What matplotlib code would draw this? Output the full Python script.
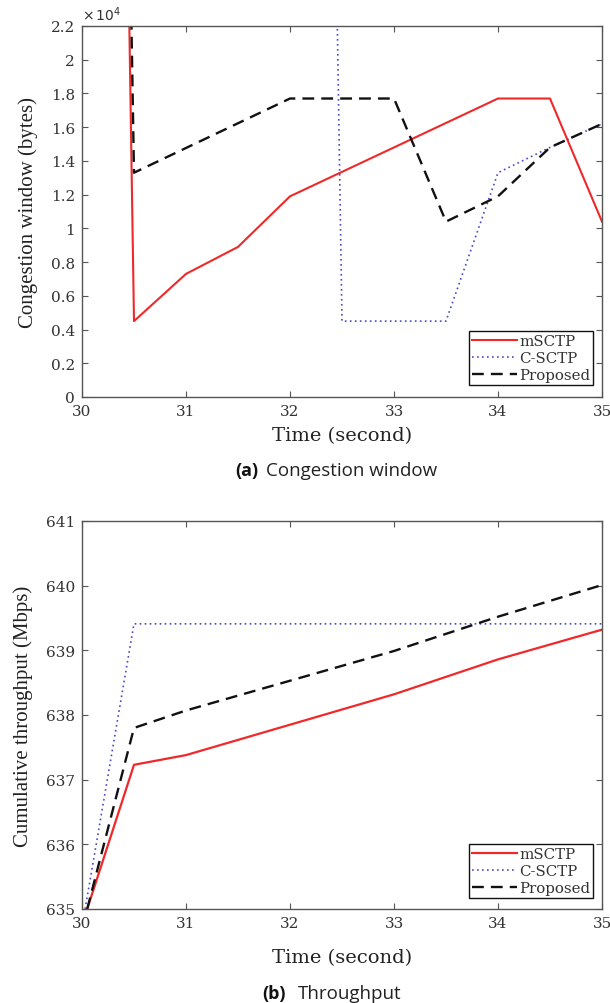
import matplotlib
matplotlib.use("Agg")
import matplotlib.pyplot as plt
from matplotlib.ticker import FuncFormatter

# ---- Congestion window (bytes) ----
cw_mSCTP_t = [30.45, 30.5, 31, 31.5, 32, 33, 34, 34.5, 35]
cw_mSCTP = [24000, 4500, 7300, 8900, 11900, 14800, 17700, 17700, 10400]

cw_CSCTP_t = [32.45, 32.5, 33.5, 34, 34.5, 35]
cw_CSCTP = [24000, 4500, 4500, 13300, 14800, 16200]

cw_prop_t = [30.47, 30.5, 32, 33, 33.5, 34, 34.5, 35]
cw_prop = [24000, 13300, 17700, 17700, 10400, 11900, 14800, 16200]

# ---- Cumulative throughput (Mbps) ----
tp_mSCTP_t = [30.05, 30.5, 31, 32, 33, 34, 35]
tp_mSCTP = [635.0, 637.23, 637.38, 637.85, 638.32, 638.86, 639.32]

tp_CSCTP_t = [30.03, 30.5, 31, 32, 33, 34, 35]
tp_CSCTP = [635.0, 639.41, 639.41, 639.41, 639.41, 639.41, 639.41]

tp_prop_t = [30.05, 30.5, 31, 32, 33, 34, 35]
tp_prop = [635.0, 637.8, 638.07, 638.53, 638.99, 639.52, 640.01]

series_names = ["mSCTP", "C-SCTP", "Proposed"]
x_ticks = [30, 31, 32, 33, 34, 35]
cw_ticks = [i * 2000 for i in range(12)]
tp_ticks = [635, 636, 637, 638, 639, 640, 641]

RED = "#f0282a"
BLUE = "#4a4ac8"
BLACK = "#111111"
AX_COL = "#555555"
TICK_FONT = "DejaVu Serif"
LABEL_FONT = "Liberation Serif"
CAP_FONT = "Open Sans"

W, H = 610, 1004
fig = plt.figure(figsize=(W / 100, H / 100), dpi=100)


def px_axes(left, top, right, bottom):
    return fig.add_axes([left / W, 1 - bottom / H, (right - left) / W, (bottom - top) / H])


def style_axes(ax):
    for s in ax.spines.values():
        s.set_color(AX_COL)
        s.set_linewidth(1.0)
    ax.tick_params(direction="in", top=True, right=True, length=4, width=0.8,
                   color=AX_COL, labelcolor="#333333", labelsize=11, pad=5)
    for lab in ax.get_xticklabels() + ax.get_yticklabels():
        lab.set_fontfamily(TICK_FONT)


def add_legend(ax, anchor):
    leg = ax.legend(series_names, loc="lower right", bbox_to_anchor=anchor,
                    frameon=True, fancybox=False, framealpha=1, edgecolor="#111111",
                    prop={"family": TICK_FONT, "size": 10.8}, handlelength=3.0,
                    handletextpad=0.15, labelspacing=0.2, borderpad=0.2,
                    borderaxespad=0.0)
    leg.get_frame().set_linewidth(1.0)
    for t in leg.get_texts():
        t.set_color("#333333")


def caption(x_left, y, tag, title, gap):
    fig.text(x_left / W, 1 - y / H, tag, ha="left", va="center", fontsize=13,
             family=CAP_FONT, weight="bold", color="#111111")
    fig.text((x_left + gap) / W, 1 - y / H, title, ha="left", va="center",
             fontsize=13.5, family=CAP_FONT, color="#222222")


# ---------- (a) Congestion window ----------
ax1 = px_axes(82, 27, 602, 398)
ax1.plot(cw_mSCTP_t, cw_mSCTP, color=RED, lw=1.5)
ax1.plot(cw_CSCTP_t, cw_CSCTP, color=BLUE, lw=1.2, ls=(0, (1, 2)))
ax1.plot(cw_prop_t, cw_prop, color=BLACK, lw=1.7, ls=(0, (5, 3)))
ax1.set_xlim(30, 35)
ax1.set_ylim(0, 22000)
ax1.set_xticks(x_ticks)
ax1.set_yticks(cw_ticks)
ax1.yaxis.set_major_formatter(FuncFormatter(lambda v, p: f"{v / 1e4:g}"))
style_axes(ax1)
ax1.set_ylabel("Congestion window (bytes)", family=LABEL_FONT, fontsize=15,
               color="#222222", labelpad=9)
ax1.set_xlabel("Time (second)", family=TICK_FONT, fontsize=14, color="#222222",
               labelpad=6)
ax1.text(0.0, 1.008, r"$\times\,10^4$", transform=ax1.transAxes, ha="left",
         va="bottom", fontsize=10, color="#333333", family=TICK_FONT)
add_legend(ax1, (0.983, 0.032))
caption(235, 471, "(a)", "Congestion window", 31)

# ---------- (b) Throughput ----------
ax2 = px_axes(82, 522, 602, 910)
ax2.plot(tp_mSCTP_t, tp_mSCTP, color=RED, lw=1.6)
ax2.plot(tp_CSCTP_t, tp_CSCTP, color=BLUE, lw=1.2, ls=(0, (1, 2)))
ax2.plot(tp_prop_t, tp_prop, color=BLACK, lw=1.7, ls=(0, (5, 3)))
ax2.set_xlim(30, 35)
ax2.set_ylim(635, 641)
ax2.set_xticks(x_ticks)
ax2.set_yticks(tp_ticks)
style_axes(ax2)
ax2.set_ylabel("Cumulative throughput (Mbps)", family=LABEL_FONT, fontsize=15,
               color="#222222", labelpad=9)
ax2.set_xlabel("Time (second)", family=TICK_FONT, fontsize=14, color="#222222",
               labelpad=13)
add_legend(ax2, (0.983, 0.028))
caption(262, 994, "(b)", "Throughput", 36)

fig.savefig("out.png", dpi=100)
